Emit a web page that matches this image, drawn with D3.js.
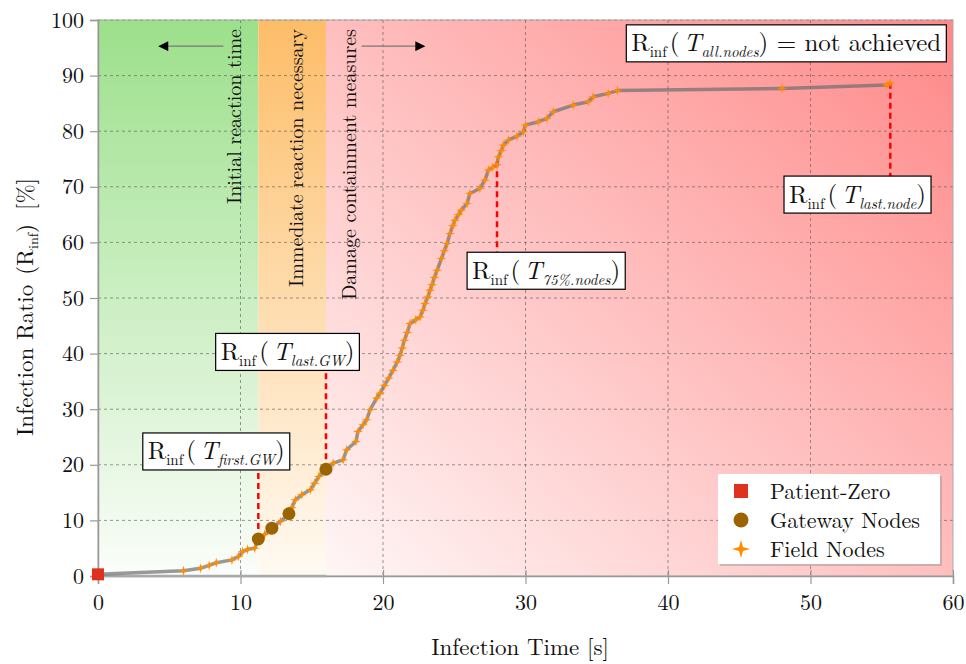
<!DOCTYPE html>
<html>
<head>
<meta charset="utf-8">
<script src="https://cdnjs.cloudflare.com/ajax/libs/d3/7.8.5/d3.min.js"></script>
<style>
  body { margin: 0; background: #fff; }
  svg text { font-family: "Latin Modern Roman", "Liberation Serif", "DejaVu Serif", serif; fill: #111; }
</style>
</head>
<body>
<div class="chart"></div>
<script>
// axis ticks
var xTicks = [0, 10, 20, 30, 40, 50, 60];
var yTicks = [0, 10, 20, 30, 40, 50, 60, 70, 80, 90, 100];

// patient zero
var pzTime = [0];
var pzRatio = [0.3];

// gateway nodes
var gwTime = [11.25, 12.2, 13.4, 16.0];
var gwRatio = [6.65, 8.6, 11.2, 19.2];

// field nodes
var fieldTime = [6.0, 7.2, 7.8, 8.3, 9.4, 9.85, 10.15, 10.5, 11.0, 11.7, 12.8, 13.6, 13.85, 14.3, 14.9, 15.2, 15.5, 15.8,
  16.5, 17.2, 17.45, 18.1, 18.25, 18.6, 18.85, 19.1, 19.55, 19.8, 20.1, 20.4, 20.7, 21.0, 21.2, 21.35, 21.5, 21.7, 21.9,
  22.3, 22.6, 22.8, 22.95, 23.15, 23.3, 23.45, 23.6, 23.8, 24.1, 24.3, 24.5, 24.7, 24.9, 25.05, 25.3, 25.5, 25.9, 26.1,
  26.8, 27.15, 27.4, 27.7, 28.0, 28.1, 28.3, 28.45, 28.8, 29.4, 29.85, 30.0, 30.9, 31.5, 31.95, 33.35, 34.4, 34.75,
  35.8, 36.45, 48.0, 55.35, 55.6];
var fieldRatio = [0.95, 1.4, 1.9, 2.4, 2.9, 3.5, 4.4, 4.8, 5.0, 7.5, 9.8, 12.3, 13.7, 14.6, 15.5, 16.7, 17.9, 18.7,
  20.3, 20.9, 22.7, 24.2, 26.0, 27.2, 28.1, 29.9, 32.0, 32.9, 34.3, 35.6, 37.0, 38.5, 39.7, 41.0, 42.4, 43.8, 45.4,
  46.1, 46.6, 47.8, 49.0, 50.2, 51.4, 52.4, 53.7, 55.0, 57.1, 58.5, 59.8, 61.6, 63.0, 64.0, 65.0, 65.8, 67.0, 68.8,
  69.7, 71.2, 73.0, 73.5, 74.0, 75.4, 76.5, 77.5, 78.4, 79.1, 79.9, 81.1, 81.7, 82.3, 83.5, 84.7, 85.3, 86.2,
  86.8, 87.3, 87.7, 88.3, 88.7];

// phase boundaries (time)
var phaseEdges = [0, 11.25, 16.0, 60];

// annotation markers: time, ratio of point, ratio where the dashed line ends
var markTime = [11.25, 16.0, 28.0, 55.6];
var markFrom = [6.65, 19.2, 74.6, 88.7];
var markTo = [19.1, 36.9, 58.3, 71.8];

var W = 966, H = 664;
var pLeft = 98, pRight = 953, pTop = 20, pBottom = 576;

var x = d3.scaleLinear().domain([0, 60]).range([pLeft, pRight]);
var y = d3.scaleLinear().domain([0, 100]).range([pBottom, pTop]);

var svg = d3.select(".chart").append("svg")
  .attr("width", W)
  .attr("height", H);

// gradients for the three phases
var defs = svg.append("defs");
function vGrad(id, c1, c2) {
  var g = defs.append("linearGradient").attr("id", id)
    .attr("x1", 0).attr("y1", 0).attr("x2", 0).attr("y2", 1);
  g.append("stop").attr("offset", "0%").attr("stop-color", c1);
  g.append("stop").attr("offset", "100%").attr("stop-color", c2);
}
vGrad("gGreen", "#9ce08b", "#fbfdfa");
vGrad("gOrange", "#fdbd68", "#fffaf2");
var rg = defs.append("linearGradient").attr("id", "gRed")
  .attr("x1", 0).attr("y1", 1).attr("x2", 1).attr("y2", 0);
rg.append("stop").attr("offset", "0%").attr("stop-color", "#fff6f6");
rg.append("stop").attr("offset", "45%").attr("stop-color", "#ffc4c4");
rg.append("stop").attr("offset", "100%").attr("stop-color", "#ff8888");

var fills = ["url(#gGreen)", "url(#gOrange)", "url(#gRed)"];
svg.append("g").selectAll("rect")
  .data(d3.range(3))
  .enter()
  .append("rect")
  .attr("x", function (i) { return x(phaseEdges[i]); })
  .attr("y", pTop)
  .attr("width", function (i) { return x(phaseEdges[i + 1]) - x(phaseEdges[i]); })
  .attr("height", pBottom - pTop)
  .style("fill", function (i) { return fills[i]; });

// grid
var grid = svg.append("g").attr("stroke", "#555").attr("stroke-opacity", 0.75)
  .attr("stroke-dasharray", "3,3").attr("stroke-width", 0.8);
grid.selectAll("line.gx").data(xTicks.slice(1, -1)).enter().append("line")
  .attr("x1", function (d) { return x(d); }).attr("x2", function (d) { return x(d); })
  .attr("y1", pTop).attr("y2", pBottom);
grid.selectAll("line.gy").data(yTicks.slice(1)).enter().append("line")
  .attr("x1", pLeft).attr("x2", pRight)
  .attr("y1", function (d) { return y(d); }).attr("y2", function (d) { return y(d); });

// frame
svg.append("rect").attr("x", pLeft).attr("y", pTop)
  .attr("width", pRight - pLeft).attr("height", pBottom - pTop)
  .style("fill", "none").style("stroke", "#aaa").style("stroke-width", 1);

// axes
var xAxis = svg.append("g").attr("transform", "translate(0," + pBottom + ")")
  .call(d3.axisBottom(x).tickValues(xTicks).tickSize(8).tickPadding(10));
var yAxis = svg.append("g").attr("transform", "translate(" + pLeft + ",0)")
  .call(d3.axisLeft(y).tickValues(yTicks).tickSize(8).tickPadding(6));
[xAxis, yAxis].forEach(function (a) {
  a.select(".domain").attr("stroke", "#999").attr("stroke-width", 1.5);
  a.selectAll(".tick line").attr("stroke", "#999").attr("stroke-width", 1.2);
  a.selectAll(".tick text").style("font-family", "'Latin Modern Roman','Liberation Serif',serif")
    .style("font-size", "22px").attr("fill", "#111");
});
xAxis.selectAll(".tick line").attr("y1", -6);

// axis titles
svg.append("text").attr("x", 520).attr("y", 655)
  .attr("text-anchor", "middle").style("font-size", "23px").text("Infection Time [s]");
var yl = svg.append("text").attr("transform", "translate(33,307) rotate(-90)")
  .attr("text-anchor", "middle").style("font-size", "23px");
yl.append("tspan").text("Infection Ratio");
yl.append("tspan").attr("dx", 10).text("(R");
yl.append("tspan").attr("dy", 5).style("font-size", "14px").text("inf");
yl.append("tspan").attr("dy", -5).text(")");
yl.append("tspan").attr("dx", 14).text("[%]");

// phase captions
var captions = [["Initial reaction time", 9.55], ["Immediate reaction necessary", 13.9], ["Damage containment measures", 17.6]];
svg.append("g").selectAll("text").data(captions).enter().append("text")
  .attr("transform", function (d) { return "translate(" + x(d[1]) + "," + 29 + ") rotate(-90)"; })
  .attr("text-anchor", "end").attr("dy", "0.35em")
  .style("font-size", "20px").text(function (d) { return d[0]; });

// arrows
defs.append("marker").attr("id", "arrow").attr("viewBox", "0 0 10 10")
  .attr("refX", 9).attr("refY", 5).attr("markerWidth", 14).attr("markerHeight", 10)
  .attr("markerUnits", "userSpaceOnUse").attr("orient", "auto")
  .append("path").attr("d", "M0,0 L10,5 L0,10 Z").attr("fill", "#000");
[[8.8, 4.3], [18.5, 22.9]].forEach(function (a) {
  svg.append("line").attr("x1", x(a[0])).attr("x2", x(a[1]))
    .attr("y1", y(95.3)).attr("y2", y(95.3))
    .attr("stroke", "#777").attr("stroke-width", 1.3).attr("marker-end", "url(#arrow)");
});

// baseline under the early phases
svg.append("line").attr("x1", x(0)).attr("x2", x(16)).attr("y1", y(0)).attr("y2", y(0))
  .attr("stroke", "#aaa").attr("stroke-width", 2.5);

// infection curve
var pts = [];
pzTime.forEach(function (t, i) { pts.push([t, pzRatio[i]]); });
gwTime.forEach(function (t, i) { pts.push([t, gwRatio[i]]); });
fieldTime.forEach(function (t, i) { pts.push([t, fieldRatio[i]]); });
pts.sort(function (a, b) { return a[0] - b[0]; });
var line = d3.line().x(function (d) { return x(d[0]); }).y(function (d) { return y(d[1]); });
svg.append("path").datum(pts).attr("d", line)
  .attr("fill", "none").attr("stroke", "#6e6e6e").attr("stroke-opacity", 0.7)
  .attr("stroke-width", 3.5).attr("stroke-linejoin", "round");

// red dashed marker lines
svg.append("g").selectAll("line").data(markTime).enter().append("line")
  .attr("x1", function (d) { return x(d); }).attr("x2", function (d) { return x(d); })
  .attr("y1", function (d, i) { return y(markFrom[i]); })
  .attr("y2", function (d, i) { return y(markTo[i]); })
  .attr("stroke", "#ff0000").attr("stroke-width", 2.5).attr("stroke-dasharray", "6,4");

// four-pointed star
function star(s) {
  var k = s * 0.22;
  return "M0," + (-s) + "L" + k + "," + (-k) + "L" + s + ",0L" + k + "," + k + "L0," + s +
    "L" + (-k) + "," + k + "L" + (-s) + ",0L" + (-k) + "," + (-k) + "Z";
}

// field nodes
svg.append("g").selectAll("path").data(fieldTime).enter().append("path")
  .attr("transform", function (d, i) { return "translate(" + x(d) + "," + y(fieldRatio[i]) + ")"; })
  .attr("d", star(5)).attr("fill", "#ff8c00");

// gateway nodes
svg.append("g").selectAll("circle").data(gwTime).enter().append("circle")
  .attr("cx", function (d) { return x(d); })
  .attr("cy", function (d, i) { return y(gwRatio[i]); })
  .attr("r", 6.5).attr("fill", "#9c6400");

// patient zero
svg.append("g").selectAll("rect").data(pzTime).enter().append("rect")
  .attr("x", function (d) { return x(d) - 6; })
  .attr("y", function (d, i) { return y(pzRatio[i]) - 6; })
  .attr("width", 12).attr("height", 12).attr("fill", "#e0301e");

// annotation boxes: [sub, trailing text, center time, center ratio]
var notes = [
  ["first.GW", "", 8.3, 22.4],
  ["last.GW", "", 13.3, 40.3],
  ["75%.nodes", "", 31.45, 54.9],
  ["last.node", "", 53.3, 68.6],
  ["all.nodes", " = not achieved", 48.3, 95.8]
];
notes.forEach(function (n) {
  var g = svg.append("g");
  var t = g.append("text").attr("x", x(n[2])).attr("y", y(n[3]) + 8)
    .attr("text-anchor", "middle").style("font-size", "25px");
  t.append("tspan").text("R");
  t.append("tspan").attr("dy", 6).style("font-size", "15px").text("inf");
  t.append("tspan").attr("dy", -6).attr("dx", 3).text("(");
  t.append("tspan").attr("dx", 4).style("font-style", "italic").text("T");
  t.append("tspan").attr("dy", 6).style("font-style", "italic").style("font-size", "15px").text(n[0]);
  t.append("tspan").attr("dy", -6).text(")" + n[1]);
  var b = t.node().getBBox();
  g.insert("rect", "text").attr("x", b.x - 5).attr("y", y(n[3]) - 18.5)
    .attr("width", b.width + 10).attr("height", 37)
    .attr("fill", "#fff").attr("stroke", "#000").attr("stroke-width", 1.2);
});

// legend
var lg = svg.append("g").attr("transform", "translate(718,474)");
lg.append("rect").attr("x", 2).attr("y", 2).attr("width", 222).attr("height", 90).attr("fill", "#999").attr("opacity", 0.5);
lg.append("rect").attr("width", 222).attr("height", 90).attr("fill", "#fff");
var legendNames = ["Patient-Zero", "Gateway Nodes", "Field Nodes"];
legendNames.forEach(function (name, i) {
  var cy = 17 + i * 29;
  if (i === 0) lg.append("rect").attr("x", 16).attr("y", cy - 7).attr("width", 14).attr("height", 14).attr("fill", "#e0301e");
  if (i === 1) lg.append("circle").attr("cx", 23).attr("cy", cy).attr("r", 7.5).attr("fill", "#9c6400");
  if (i === 2) lg.append("path").attr("transform", "translate(23," + cy + ")").attr("d", star(9)).attr("fill", "#ff8c00");
  lg.append("text").attr("x", 52).attr("y", cy).attr("dy", "0.35em").style("font-size", "22px").text(name);
});
</script>
</body>
</html>
